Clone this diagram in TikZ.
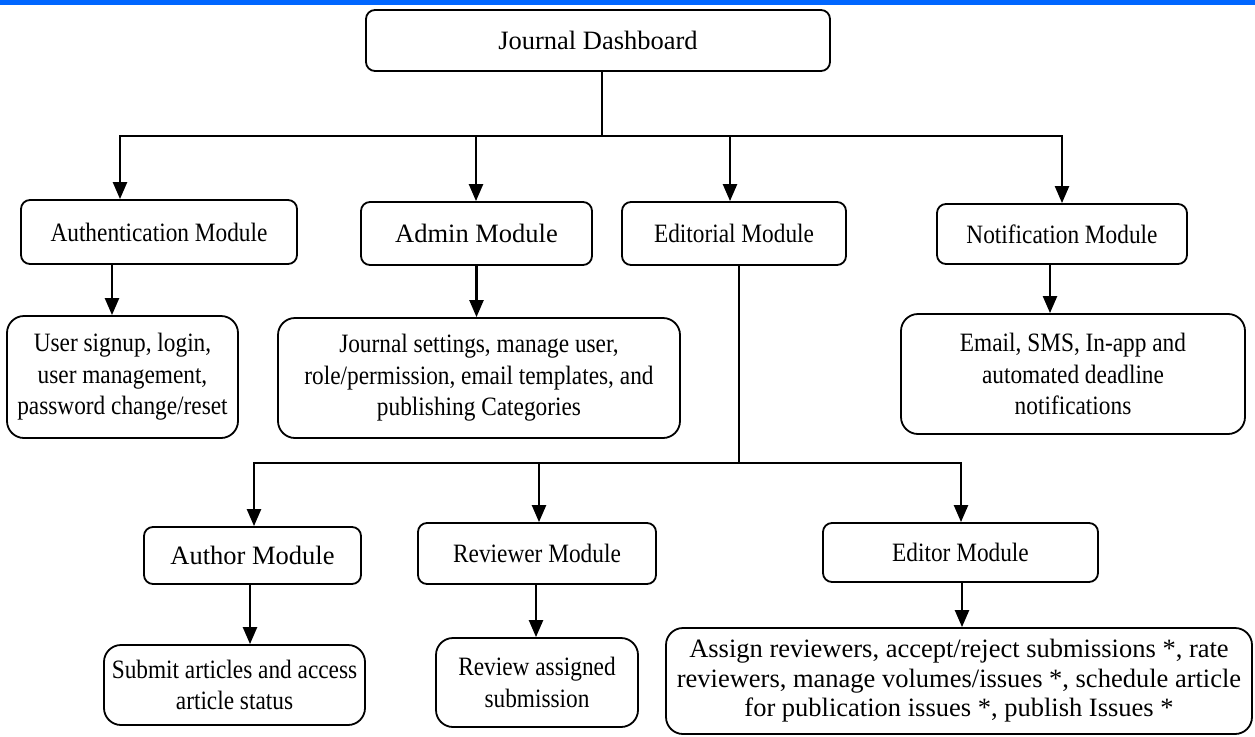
\documentclass[tikz,border=0pt]{standalone}
\usepackage{fontspec}
\setmainfont{Liberation Serif}
\newfontfamily\condfont[FakeStretch=0.88]{Liberation Serif}
\usetikzlibrary{arrows.meta}
\definecolor{topbar}{RGB}{0,102,255}
\tikzset{
  box/.style={draw, line width=1.8pt, rounded corners=9pt, align=center,
    inner sep=0pt, font=\fontsize{26.5}{31.5}\selectfont},
  narrow/.style={font=\condfont\fontsize{26.5}{31.5}\selectfont},
  roomy/.style={rounded corners=17pt},
  link/.style={line width=2.3pt},
  arr/.style={link, -{Triangle[length=17pt,width=14pt]}},
}
\begin{document}
\begin{tikzpicture}[x=1pt,y=-1pt]
  \useasboundingbox (0,0) rectangle (1255,736);
  \fill[white] (0,0) rectangle (1255,736);
  \fill[topbar] (0,0) rectangle (1255,4.5);

  % top level
  \node[box, minimum width=464pt, minimum height=61pt] (jd) at (598,40.5) {Journal Dashboard};

  % modules
  \node[box, narrow, minimum width=276pt, minimum height=64pt] (auth) at (159,232) {Authentication Module};
  \node[box, minimum width=231pt, minimum height=63pt] (admin) at (476.5,233.5) {Admin Module};
  \node[box, narrow, minimum width=224pt, minimum height=63pt] (edit) at (734,233.5) {Editorial Module};
  \node[box, narrow, minimum width=250pt, minimum height=60pt] (notif) at (1062,234) {Notification Module};

  % module details
  \node[box, narrow, roomy, minimum width=231pt, minimum height=122pt] (authd) at (122.5,377)
    {User signup, login,\\ user management,\\ password change/reset};
  \node[box, narrow, roomy, minimum width=402pt, minimum height=120pt] (admind) at (479,378)
    {Journal settings, manage user,\\ role/permission, email templates, and\\ publishing Categories};
  \node[box, narrow, roomy, minimum width=344pt, minimum height=120pt] (notifd) at (1073,374)
    {Email, SMS, In-app and\\ automated deadline\\ notifications};

  % editorial sub-modules
  \node[box, minimum width=217pt, minimum height=57pt] (author) at (252.5,555.5) {Author Module};
  \node[box, narrow, minimum width=238pt, minimum height=61pt] (rev) at (537,553.5) {Reviewer Module};
  \node[box, narrow, minimum width=275pt, minimum height=59pt] (editor) at (960.5,552.5) {Editor Module};

  % sub-module details
  \node[box, narrow, roomy, minimum width=261pt, minimum height=80pt] (authord) at (234.5,685)
    {Submit articles and access\\ article status};
  \node[box, narrow, roomy, minimum width=202pt, minimum height=89pt] (revd) at (537,682.5)
    {Review assigned\\ submission};
  \node[box, roomy, minimum width=586pt, minimum height=106pt,
        font=\fontsize{26.5}{29.5}\selectfont] (editord) at (959,681)
    {Assign reviewers, accept/reject submissions *, rate\\
     reviewers, manage volumes/issues *, schedule article\\
     for publication issues *, publish Issues *};

  % branch points
  \coordinate (hub) at (602,136);
  \coordinate (tAuth) at (120,136);
  \coordinate (tAdmin) at (476,136);
  \coordinate (tEdit) at (730,136);
  \coordinate (tNotif) at (1062,136);
  \coordinate (hub2) at (739,463);
  \coordinate (tAuthor) at (254,463);
  \coordinate (tRev) at (539,463);
  \coordinate (tEditor) at (961,463);

  % dashboard to modules
  \draw[link] (jd.south -| hub) -- (hub);
  \draw[link, line cap=rect] (tAuth) -- (tNotif);
  \draw[arr] (tAuth) -- (tAuth |- auth.north);
  \draw[arr] (tAdmin) -- (tAdmin |- admin.north);
  \draw[arr] (tEdit) -- (tEdit |- edit.north);
  \draw[arr] (tNotif) -- (tNotif |- notif.north);

  % modules to details
  \draw[arr] ([xshift=-47pt]auth.south) -- ([xshift=-47pt]auth.south |- authd.north);
  \draw[arr] (admin.south) -- (admin.south |- admind.north);
  \draw[arr] ([xshift=-12pt]notif.south) -- ([xshift=-12pt]notif.south |- notifd.north);

  % editorial to sub-modules
  \draw[link] ([xshift=5pt]edit.south) -- (hub2);
  \draw[link, line cap=rect] (tAuthor) -- (tEditor);
  \draw[arr] (tAuthor) -- (tAuthor |- author.north);
  \draw[arr] (tRev) -- (tRev |- rev.north);
  \draw[arr] (tEditor) -- (tEditor |- editor.north);

  % sub-modules to details
  \draw[arr] ([xshift=-2.5pt]author.south) -- ([xshift=-2.5pt]author.south |- authord.north);
  \draw[arr] ([xshift=-1pt]rev.south) -- ([xshift=-1pt]rev.south |- revd.north);
  \draw[arr] ([xshift=1.5pt]editor.south) -- ([xshift=1.5pt]editor.south |- editord.north);
\end{tikzpicture}
\end{document}
